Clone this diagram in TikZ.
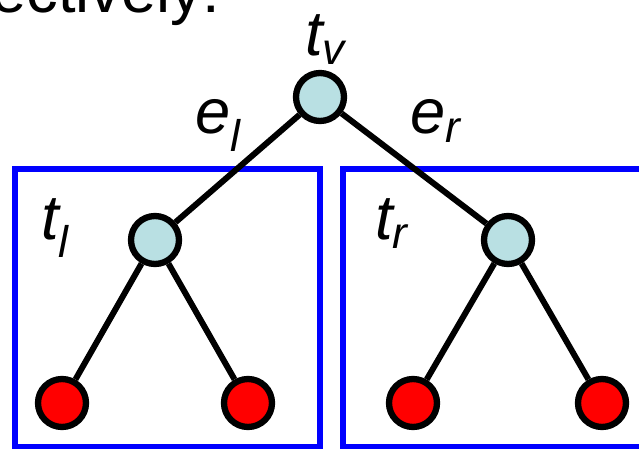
\documentclass[tikz,border=0pt]{standalone}
\usepackage{fontspec}
\setmainfont{Liberation Sans}
\usepackage{xcolor}
\usepackage{tikz}
\usetikzlibrary{positioning}
\definecolor{cInner}{HTML}{B9E0E3}
\definecolor{cLeaf}{HTML}{FF0000}
\definecolor{cBox}{HTML}{0000FF}

\begin{document}
\begin{tikzpicture}[x=0.02cm,y=-0.02cm,font=\fontsize{36pt}{40pt}\selectfont,
  inner/.style={circle,draw=black,fill=cInner,line width=3.6pt,
                minimum size=0.96cm,inner sep=0pt},
  leaf/.style={circle,draw=black,fill=cLeaf,line width=3.6pt,
               minimum size=0.96cm,inner sep=0pt},
  sub/.style={draw=cBox,line width=3.2pt},
  ed/.style={line width=3.4pt,black},
  lbl/.style={anchor=base west,inner sep=0pt}]
\clip (0,0) rectangle (639,449);
\node[lbl] (txt) at (-9,13) {ectively:};
\node[inner] (tv) at (320,97) {};
\node[inner] (tl) at (155,240) {};
\node[inner] (tr) at (508,240) {};
\node[leaf] (l1) at (62,403) {};
\node[leaf] (l2) at (248,403) {};
\node[leaf] (l3) at (413,403) {};
\node[leaf] (l4) at (602,403) {};
\node[lbl] (ltv) at (305,56) {\itshape t\textsubscript{v}};
\node[lbl] (lel) at (195,134) {\itshape e\textsubscript{l}};
\node[lbl] (ler) at (410,134) {\itshape e\textsubscript{r}};
\node[lbl] (ltl) at (41,240) {\itshape t\textsubscript{l}};
\node[lbl] (ltr) at (375,240) {\itshape t\textsubscript{r}};
% subtrees
\draw[sub] (15,169) rectangle (320,447);
\draw[sub] (343,169) rectangle (660,447);
\draw[ed] (tv) -- (tl);
\draw[ed] (tv) -- (tr);
\foreach \a/\b in {tl/l1,tl/l2,tr/l3,tr/l4} \draw[ed] (\a) -- (\b);
\end{tikzpicture}
\end{document}
